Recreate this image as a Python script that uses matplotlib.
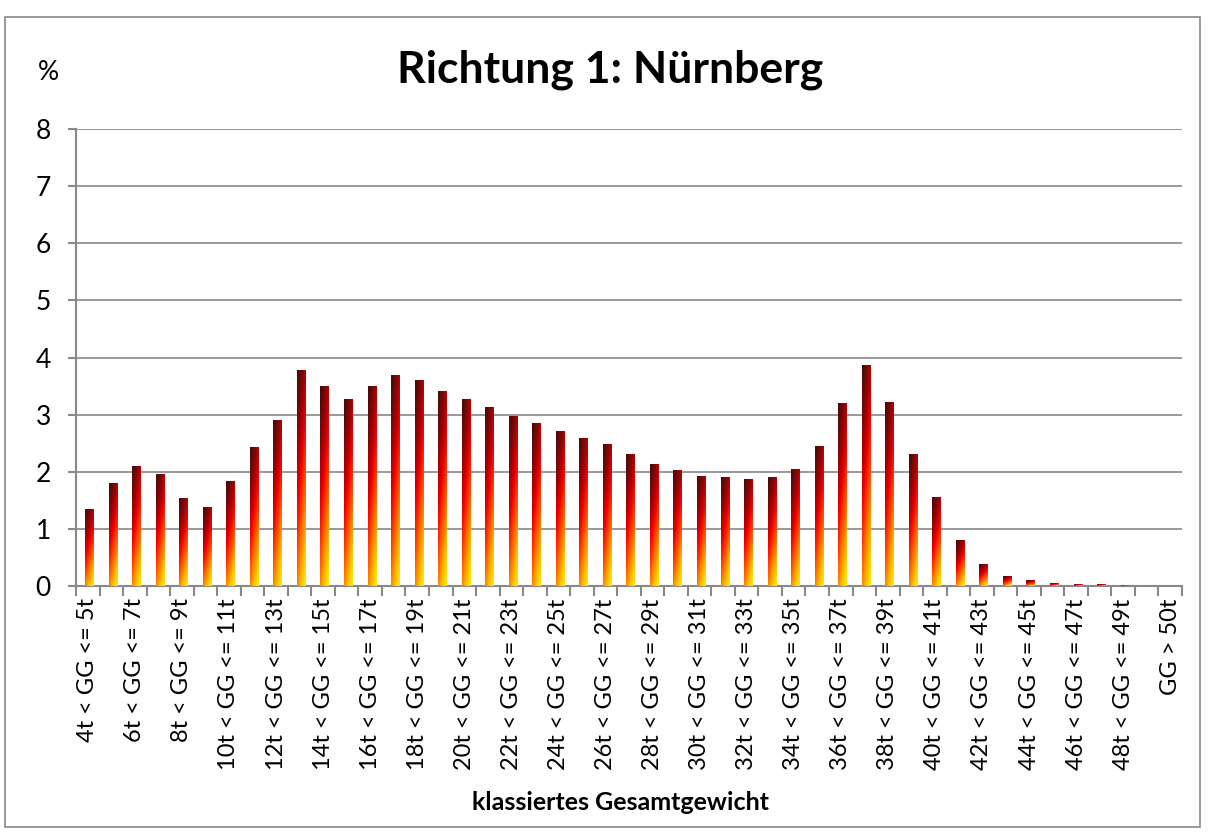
import numpy as np
import matplotlib
matplotlib.use('Agg')
import matplotlib.pyplot as plt
from matplotlib.colors import LinearSegmentedColormap
from matplotlib.patches import Rectangle

plt.rcParams['font.family'] = ['Lato', 'DejaVu Sans']

# Categories: 4t..50t in 1t steps, plus > 50t
lower = list(range(4, 50))
categories = [f'{a}t < GG <= {a + 1}t' for a in lower] + ['GG > 50t']

# Percent share per weight class
values = [1.34, 1.80, 2.09, 1.95, 1.53, 1.37, 1.83, 2.43, 2.90, 3.77,
          3.50, 3.26, 3.50, 3.68, 3.59, 3.41, 3.27, 3.13, 2.97, 2.85,
          2.71, 2.58, 2.48, 2.31, 2.13, 2.02, 1.92, 1.90, 1.87, 1.90,
          2.04, 2.45, 3.20, 3.86, 3.22, 2.30, 1.55, 0.79, 0.385, 0.175,
          0.09, 0.05, 0.03, 0.02, 0.015, 0.0, 0.0]

title = 'Richtung 1: Nürnberg'
xlabel = 'klassiertes Gesamtgewicht'

fig = plt.figure(figsize=(12.08, 8.33), dpi=100)
ax = fig.add_axes([76 / 1208, 1 - 586 / 833, (1182 - 76) / 1208, (586 - 129) / 833])

# outer frame like the Excel chart area
fig.patches.append(Rectangle((5 / 1208, 6 / 833), 1195 / 1208, 810 / 833,
                             transform=fig.transFigure, fill=False,
                             edgecolor='#888888', linewidth=1.2))

cmap = LinearSegmentedColormap.from_list(
    'fire', ['#4a0808', '#6e0a0a', '#b00000', '#f00000', '#ff3a00', '#ff8000', '#ffc000', '#ffe600'])

# gradient per bar: dark on top/left, yellow at bottom/right
ny, nx = 60, 12
yy = np.linspace(1, 0, ny)[:, None]
xx = np.linspace(0, 1, nx)[None, :]
grad = 0.72 * (1 - yy) ** 1.1 + 0.3 * xx
grad = np.clip(grad, 0, 1)

width = 0.38
for i, v in enumerate(values):
    if v <= 0:
        continue
    ax.imshow(grad, cmap=cmap, vmin=0, vmax=1, aspect='auto',
              extent=[i - width / 2 + 0.08, i + width / 2 + 0.08, 0, v],
              origin='upper', interpolation='bilinear', zorder=3)

ax.set_xlim(-0.5, len(categories) - 0.5)
ax.set_ylim(0, 8)

ax.set_yticks(range(0, 9))
ax.yaxis.grid(True, color='#888888', linewidth=1.2, zorder=0)
ax.set_axisbelow(True)

# tick marks between categories, labels every second category
ax.set_xticks(np.arange(-0.5, len(categories) + 0.5, 1), minor=False)
ax.set_xticklabels([])
lab_pos = list(range(0, len(categories), 2))
ax.set_xticks(lab_pos, minor=True)
ax.set_xticklabels([categories[i] for i in lab_pos], minor=True, rotation=90,
                   fontsize=17)
ax.tick_params(axis='x', which='minor', length=0, pad=9)
ax.tick_params(axis='x', which='major', length=7, width=1.5, color='#888888')
ax.tick_params(axis='y', length=6, width=1.5, color='#888888', labelsize=19, pad=12)

for s in ['top', 'right']:
    ax.spines[s].set_visible(False)
for s in ['left', 'bottom']:
    ax.spines[s].set_color('#888888')
    ax.spines[s].set_linewidth(1.5)

fig.text(610 / 1208, 1 - 70 / 833, title, ha='center', va='center',
         fontsize=32, fontweight='bold')
fig.text(48 / 1208, 1 - 73 / 833, '%', ha='center', va='center', fontsize=19)
fig.text(620 / 1208, 1 - 802 / 833, xlabel, ha='center', va='center',
         fontsize=18, fontweight='bold')

fig.savefig('out.png', dpi=100)
